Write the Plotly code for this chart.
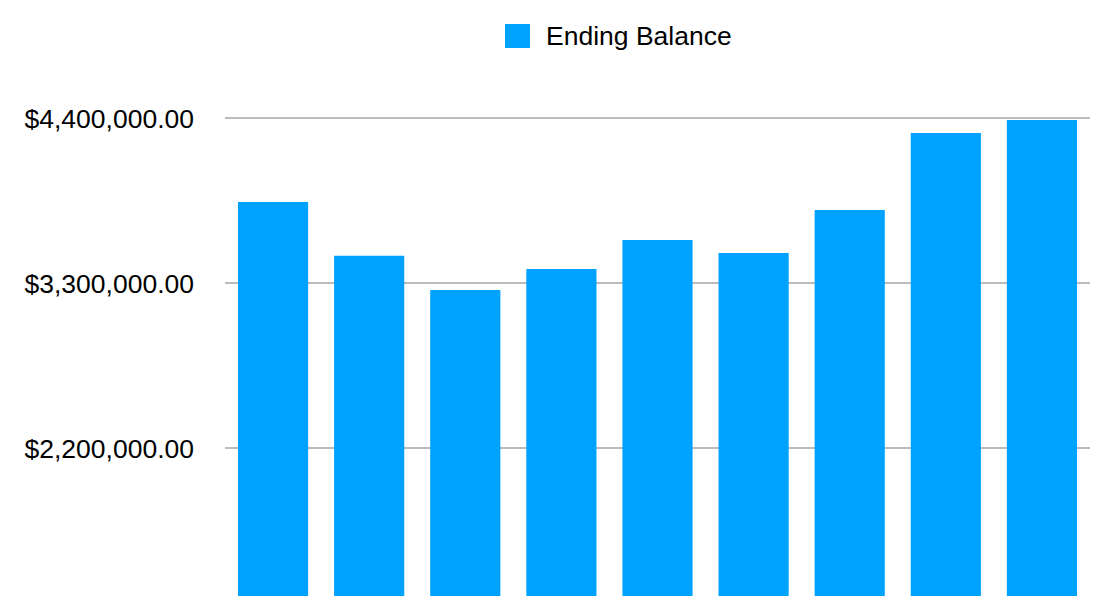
import plotly.graph_objects as go

categories = ["1", "2", "3", "4", "5", "6", "7", "8", "9"]
ending_balance = [3842000, 3484000, 3255000, 3395000, 3589000, 3502000, 3789000, 4302000, 4389000]
tick_values = [2200000, 3300000, 4400000]
series_name = "Ending Balance"

BLUE = "#00A2FF"

# figure is placed at (8, 8) inside the page by the default body margin
W, H = 1099, 588
L, R, T, B = 217, 17, 92, 0
PW, PH = W - L - R, H - T - B


def px(x):
    return (x - L) / PW


def py(y):
    return 1 + (T - y) / PH


fig = go.Figure()
fig.add_trace(go.Bar(
    x=categories, y=ending_balance, name=series_name,
    marker=dict(color=BLUE, line=dict(width=0)),
    showlegend=False,
))

# legend swatch + label
fig.add_shape(type="rect", xref="paper", yref="paper",
              x0=px(497), x1=px(522), y0=py(40), y1=py(16),
              fillcolor=BLUE, line=dict(width=0))
fig.add_annotation(xref="paper", yref="paper", x=px(537), y=py(28),
                   xanchor="left", yanchor="middle", showarrow=False,
                   text=series_name, font=dict(size=26.5), borderpad=0)

fig.update_layout(
    width=W, height=H,
    margin=dict(l=L, r=R, t=T, b=B),
    paper_bgcolor="white", plot_bgcolor="white",
    bargap=0.27,
    showlegend=False,
    font=dict(family="Liberation Sans, Arial, sans-serif", color="#000000"),
    xaxis=dict(showticklabels=False, showgrid=False, zeroline=False,
               showline=False, ticks=""),
    yaxis=dict(
        range=[1215000, 4522000],
        tickvals=tick_values, tickformat="$,.2f",
        tickfont=dict(size=26.5),
        showgrid=True, gridcolor="#BBBBBB", gridwidth=2,
        zeroline=False, showline=False, ticks="",
        ticklabelstandoff=30,
    ),
)

fig.write_html("out.html")
